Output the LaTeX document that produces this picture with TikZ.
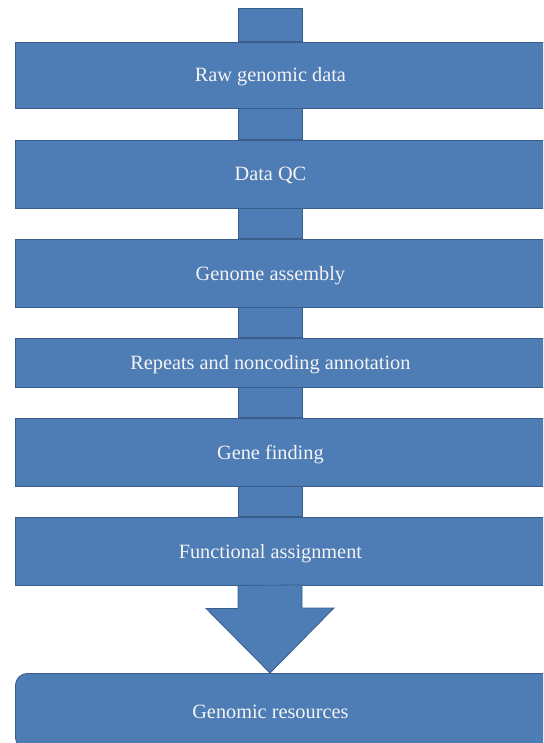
\documentclass[tikz,border=0pt]{standalone}
\usepackage{fontspec}
\setmainfont{Liberation Serif}
\usepackage{xcolor}
\usepackage{tikz}
\usetikzlibrary{positioning}

\definecolor{boxblue}{HTML}{4E7CB5}
\definecolor{edge}{HTML}{3A5E8C}
\definecolor{labelwhite}{HTML}{F4F4F4}

\newcommand{\stagetext}[1]{\makebox[545pt][l]{\makebox[510pt]{#1}}}

\begin{document}
\begin{tikzpicture}[
  x=1pt,y=-1pt,
  stage/.style={draw=edge, fill=boxblue, text=labelwhite, line width=0.8pt,
    anchor=west, inner xsep=0pt, text height=17pt, text depth=3pt,
    font=\fontsize{20.3}{24}\selectfont},
  pipe/.style={draw=edge, fill=boxblue, line width=0.8pt}
]
\clip (0,0) rectangle (543,743);

\coordinate (spine) at (270,8);

\node[stage, minimum height=66pt] (raw) at (15,75) {\stagetext{Raw genomic data}};
\node[stage, minimum height=68pt] (qc) at (15,174) {\stagetext{Data QC}};
\node[stage, minimum height=68pt] (asm) at (15,273) {\stagetext{Genome assembly}};
\node[stage, minimum height=49pt] (rep) at (15,362.5) {\stagetext{Repeats and noncoding annotation}};
\node[stage, minimum height=68pt] (gene) at (15,452) {\stagetext{Gene finding}};
\node[stage, minimum height=68pt] (func) at (15,551) {\stagetext{Functional assignment}};
\node[stage, minimum height=76pt, rounded corners=12pt, anchor=north west] (res) at (15,673) {\stagetext{Genomic resources}};

\draw[pipe] ([xshift=-32pt]spine) rectangle ([xshift=32pt]spine |- raw.north);
\draw[pipe] ([xshift=-32pt]spine |- raw.south) rectangle ([xshift=32pt]spine |- qc.north);
\draw[pipe] ([xshift=-32pt]spine |- qc.south) rectangle ([xshift=32pt]spine |- asm.north);
\draw[pipe] ([xshift=-32pt]spine |- asm.south) rectangle ([xshift=32pt]spine |- rep.north);
\draw[pipe] ([xshift=-32pt]spine |- rep.south) rectangle ([xshift=32pt]spine |- gene.north);
\draw[pipe] ([xshift=-32pt]spine |- gene.south) rectangle ([xshift=32pt]spine |- func.north);
\draw[pipe] ([xshift=-32pt]spine |- func.south) -- ++(0,23) -- ++(-32,0)
  -- (spine |- res.north) -- ++(64,-65) -- ++(-32,0) -- ++(0,-23) -- cycle;
\end{tikzpicture}
\end{document}
